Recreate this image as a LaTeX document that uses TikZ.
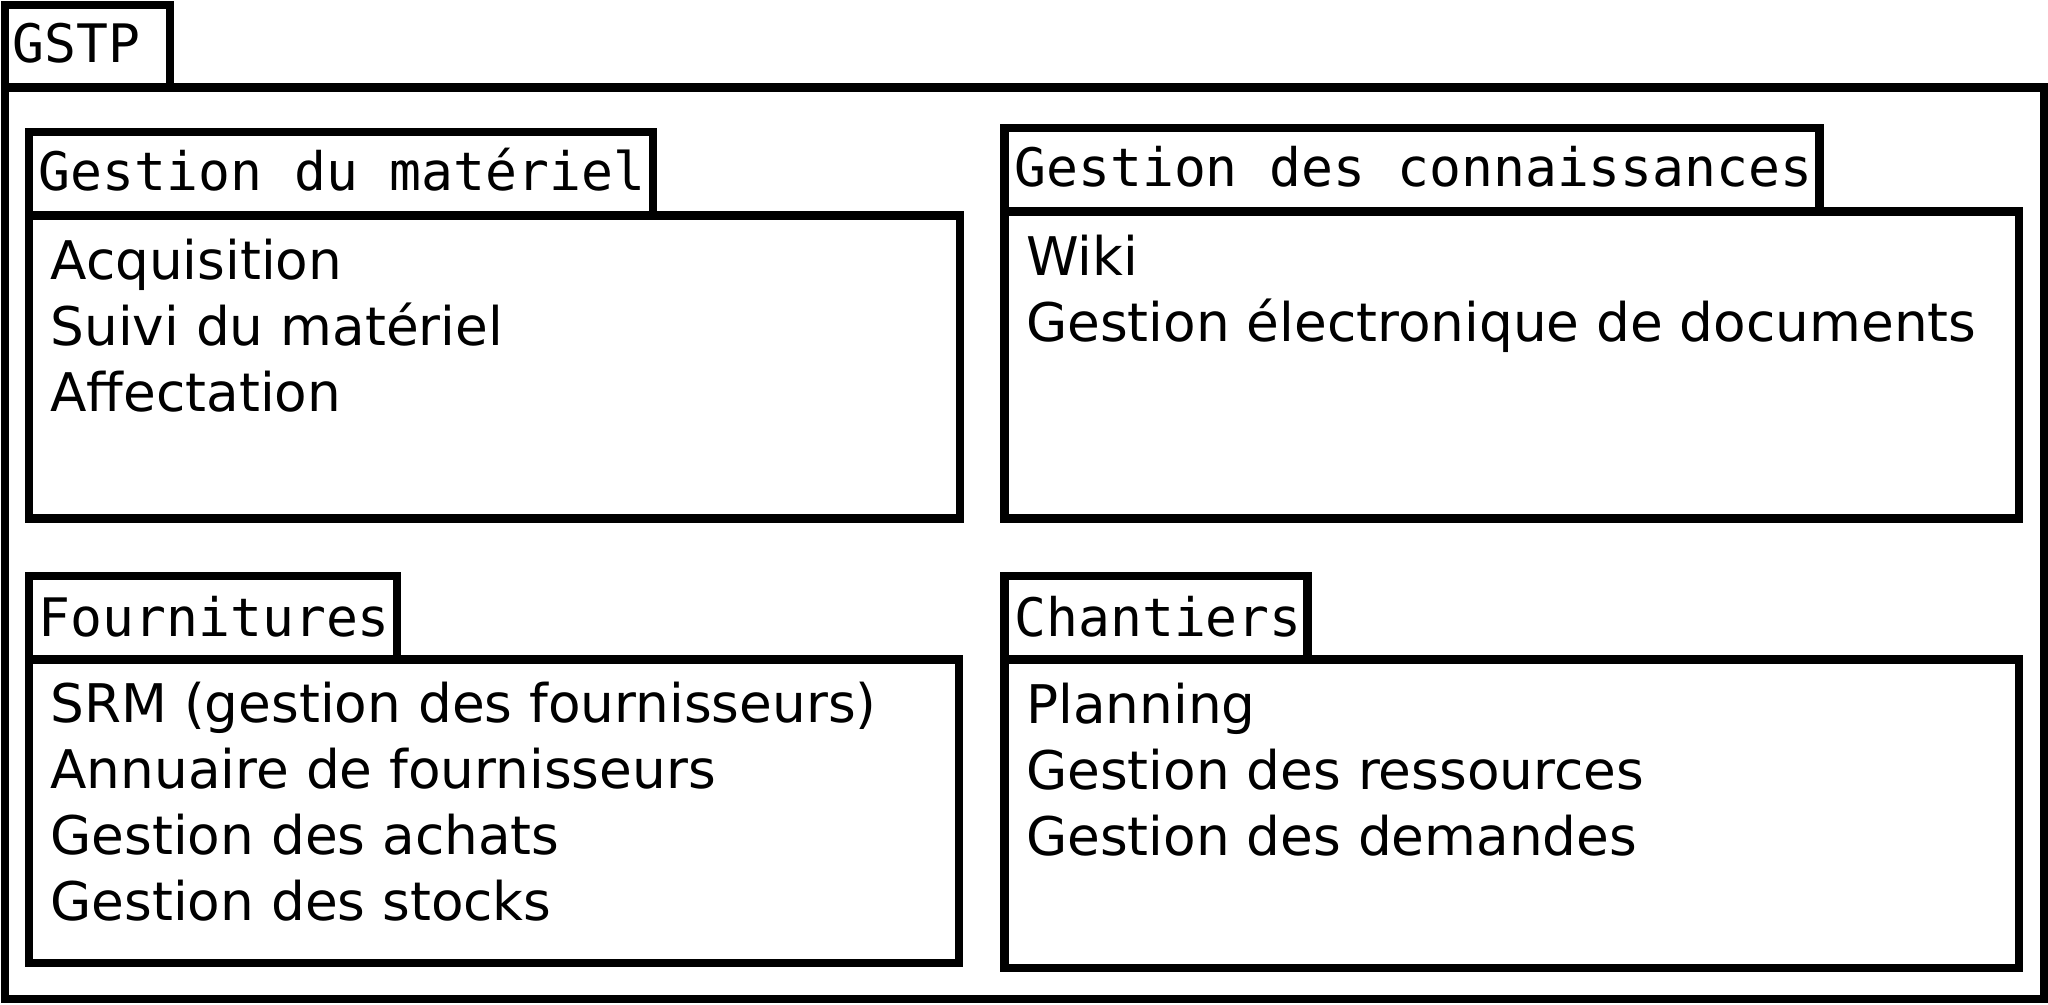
\documentclass[tikz,border=0pt]{standalone}
\usepackage{fontspec}
\newfontfamily\titlefnt{DejaVu Sans Mono}
\newfontfamily\itemfnt{DejaVu Sans}

\begin{document}
\begin{tikzpicture}[x=0.1mm,y=-0.1mm,line join=miter,
  frame/.style = {draw, line width=1.8pt},
  title/.style = {anchor=base west, inner sep=0pt, font=\titlefnt\fontsize{11.55pt}{14pt}\selectfont},
  item/.style = {anchor=base west, inner sep=0pt, font=\itemfnt\fontsize{11.6pt}{14pt}\selectfont},]
\useasboundingbox (0,0) rectangle (1568,769);
% outer package
\draw[frame] (4,4) rectangle (130,67);
\draw[frame] (4,67) rectangle (1565,765);
\node[title] (gstp) at (9,48) {GSTP};
% Gestion du materiel
\draw[frame] (22,101) rectangle (500,165);
\draw[frame] (22,165) rectangle (735,397);
\node[title] (mat) at (29,146) {Gestion du matériel};
\node[item] (acq) at (38,214) {Acquisition};
\node[item] (suivi) at (38,264.5) {Suivi du matériel};
\node[item] (aff) at (38,315) {Affectation};
% Gestion des connaissances
\draw[frame] (769,98) rectangle (1393,162);
\draw[frame] (769,162) rectangle (1546,397);
\node[title] (conn) at (776,143) {Gestion des connaissances};
\node[item] (wiki) at (785,211) {Wiki};
\node[item] (ged) at (785,261.5) {Gestion électronique de documents};
% Fournitures
\draw[frame] (22,441) rectangle (304,505);
\draw[frame] (22,505) rectangle (734,737);
\node[title] (four) at (29,487) {Fournitures};
\node[item] (srm) at (38,553) {SRM (gestion des fournisseurs)};
\node[item] (annu) at (38,603.5) {Annuaire de fournisseurs};
\node[item] (achats) at (38,654) {Gestion des achats};
\node[item] (stocks) at (38,704.5) {Gestion des stocks};
% Chantiers
\draw[frame] (769,441) rectangle (1001,505);
\draw[frame] (769,505) rectangle (1546,741);
\node[title] (chant) at (776,487) {Chantiers};
\node[item] (plan) at (785,554) {Planning};
\node[item] (ress) at (785,604.5) {Gestion des ressources};
\node[item] (dem) at (785,655) {Gestion des demandes};
\end{tikzpicture}
\end{document}
